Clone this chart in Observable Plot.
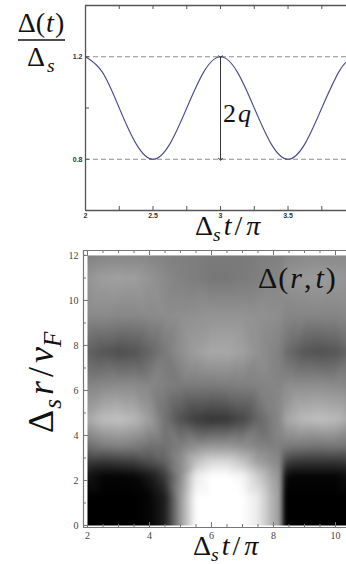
<!DOCTYPE html>
<html>
<head>
<meta charset="utf-8">
<script src="https://cdn.jsdelivr.net/npm/d3@7"></script>
<script src="https://cdn.jsdelivr.net/npm/@observablehq/plot@0.6"></script>
<style>
  html, body { margin: 0; padding: 0; background: #fff; }
  #chart { position: relative; width: 346px; height: 564px; overflow: hidden; background: #fff; }
  #chart svg { position: absolute; left: 0; display: block; }
</style>
</head>
<body>
<div id="chart"></div>
<script>
// ---- Upper panel: gap oscillation Δ(t)/Δs versus Δs t/π ----
const tSamples = [2, 2.125, 2.25, 2.375, 2.5, 2.625, 2.75, 2.875, 3, 3.125, 3.25, 3.375, 3.5, 3.625, 3.75, 3.875, 3.95];
const gapRatio = [1.2, 1.14, 1.0, 0.86, 0.8, 0.86, 1.0, 1.14, 1.2, 1.14, 1.0, 0.86, 0.8, 0.86, 1.0, 1.14, 1.19];
const levels = [0.8, 1.2];             // dashed guide levels
const swingT = [3];                    // where the 2q arrow sits
const swingFrom = [1.2];
const swingTo = [0.8];
const topTickLabelsX = [2, 2.5, 3, 3.5];
const topTickLabelsY = [0.8, 1.2];

// ---- Lower panel: Δ(r,t) density map (0 = black, 1 = white) ----
const tGrid = [2, 2.5, 3, 3.5, 4, 4.5, 5, 5.5, 6, 6.5, 7, 7.5, 8, 8.28, 8.3, 8.6, 9, 9.5, 10, 10.5];
const rGrid = [12, 11, 9.3, 7.7, 6.2, 4.7, 3.5, 2.8, 2.2, 1.2, 0];
const shade = [
  [0.50, 0.52, 0.53, 0.53, 0.52, 0.51, 0.50, 0.49, 0.48, 0.48, 0.48, 0.49, 0.50, 0.50, 0.52, 0.53, 0.54, 0.54, 0.54, 0.54],
  [0.58, 0.62, 0.63, 0.62, 0.58, 0.54, 0.51, 0.49, 0.47, 0.47, 0.48, 0.50, 0.52, 0.53, 0.57, 0.59, 0.60, 0.61, 0.60, 0.58],
  [0.54, 0.54, 0.53, 0.53, 0.54, 0.55, 0.56, 0.57, 0.58, 0.58, 0.58, 0.57, 0.56, 0.55, 0.53, 0.52, 0.52, 0.52, 0.52, 0.53],
  [0.38, 0.34, 0.31, 0.33, 0.40, 0.48, 0.56, 0.62, 0.66, 0.66, 0.63, 0.57, 0.52, 0.50, 0.45, 0.40, 0.34, 0.32, 0.34, 0.40],
  [0.52, 0.54, 0.55, 0.55, 0.53, 0.50, 0.48, 0.48, 0.48, 0.49, 0.50, 0.51, 0.52, 0.52, 0.55, 0.56, 0.56, 0.56, 0.55, 0.53],
  [0.66, 0.74, 0.76, 0.72, 0.62, 0.45, 0.32, 0.24, 0.21, 0.22, 0.28, 0.40, 0.50, 0.55, 0.62, 0.68, 0.73, 0.75, 0.73, 0.66],
  [0.42, 0.48, 0.50, 0.48, 0.44, 0.44, 0.50, 0.57, 0.60, 0.60, 0.57, 0.52, 0.50, 0.50, 0.48, 0.47, 0.46, 0.45, 0.46, 0.45],
  [0.22, 0.20, 0.22, 0.24, 0.30, 0.38, 0.55, 0.76, 0.86, 0.86, 0.78, 0.63, 0.55, 0.52, 0.28, 0.22, 0.20, 0.20, 0.20, 0.22],
  [0.08, 0.02, 0.02, 0.03, 0.10, 0.24, 0.55, 0.93, 1.00, 1.00, 0.96, 0.80, 0.62, 0.58, 0.08, 0.02, 0.02, 0.02, 0.02, 0.06],
  [0.00, 0.00, 0.00, 0.00, 0.02, 0.12, 0.60, 1.00, 1.00, 1.00, 1.00, 0.92, 0.68, 0.60, 0.00, 0.00, 0.00, 0.00, 0.00, 0.00],
  [0.00, 0.00, 0.00, 0.00, 0.02, 0.12, 0.60, 1.00, 1.00, 1.00, 1.00, 0.92, 0.68, 0.60, 0.00, 0.00, 0.00, 0.00, 0.00, 0.00]
];
const mapTickLabelsX = [2, 4, 6, 8, 10];
const mapTickLabelsY = [0, 2, 4, 6, 8, 10, 12];

// ---------------------------------------------------------------
const gapSeries = tSamples.map((t, i) => ({t, g: gapRatio[i]}));
const swing = swingT.map((t, i) => ({t, a: swingFrom[i], b: swingTo[i]}));
const cells = rGrid.flatMap((r, i) => tGrid.map((t, j) => ({t, r, v: shade[i][j]})));

const frameColor = "#555";
const sansTicks = {fontSize: 7, fontWeight: "bold", fontFamily: "'Liberation Sans', Arial, sans-serif"};
const serifTicks = {fontSize: 10, fontFamily: "'Liberation Serif', serif"};

// Upper panel: plot area is 261 x 205 px
const gapChart = Plot.plot({
  width: 346, height: 246,
  marginLeft: 85, marginRight: 0, marginTop: 5, marginBottom: 36,
  x: {domain: [2, 3.933]},
  y: {domain: [0.6, 1.4]},
  style: {color: "#333", background: "transparent"},
  marks: [
    Plot.ruleY(levels, {stroke: "#8c8c8c", strokeDasharray: "5,3", strokeWidth: 1}),
    Plot.line(gapSeries, {x: "t", y: "g", curve: "natural", stroke: "#4a4a8c", strokeWidth: 1.1}),
    Plot.link(swing, {x1: "t", x2: "t", y1: "a", y2: "b", stroke: "#333", strokeWidth: 1, markerStart: "arrow", markerEnd: "arrow"}),
    Plot.ruleX([2], {stroke: frameColor, strokeWidth: 1.3}),
    Plot.ruleY([0.6, 1.4], {stroke: frameColor, strokeWidth: 1.3}),
    Plot.tickX(d3.range(2, 3.94, 0.25), {x: d => d, insetTop: 201, stroke: frameColor}),
    Plot.tickX(d3.range(2, 3.94, 0.25), {x: d => d, insetBottom: 201, stroke: frameColor}),
    Plot.tickY([0.8, 1.0, 1.2], {y: d => d, insetRight: 257, stroke: frameColor}),
    Plot.axisX(topTickLabelsX, {tickSize: 0, tickPadding: 3, label: null, tickFormat: d => String(d), ...sansTicks}),
    Plot.axisY(topTickLabelsY, {tickSize: 0, tickPadding: 3, label: null, tickFormat: d => String(d), ...sansTicks})
  ]
});

// Lower panel: plot area is 263 x 277 px
const mapChart = Plot.plot({
  width: 346, height: 318,
  marginLeft: 83, marginRight: 0, marginTop: 4, marginBottom: 37,
  x: {domain: [1.871, 10.355]},
  y: {domain: [-0.089, 12.22]},
  color: {type: "linear", domain: [0, 1], range: ["#000", "#fff"], clamp: true},
  style: {color: "#444", background: "transparent"},
  marks: [
    Plot.raster(cells, {x: "t", y: "r", fill: "v", interpolate: "barycentric", x1: 2, x2: 10.5, y1: 0, y2: 12, blur: 2}),
    Plot.ruleX([1.871], {stroke: "#777", strokeWidth: 1.2}),
    Plot.ruleY([-0.089, 12.22], {stroke: "#777", strokeWidth: 1.2}),
    Plot.tickY(d3.range(0, 12.5, 1), {y: d => d, insetRight: 260, stroke: "#777"}),
    Plot.tickY(mapTickLabelsY, {y: d => d, insetRight: 258, stroke: "#777"}),
    Plot.tickX(d3.range(2, 10.4, 0.5), {x: d => d, insetTop: 274, stroke: "#777"}),
    Plot.tickX(mapTickLabelsX, {x: d => d, insetTop: 272, stroke: "#777"}),
    Plot.tickX(d3.range(2, 10.4, 0.5), {x: d => d, insetBottom: 274, stroke: "#777"}),
    Plot.tickX(mapTickLabelsX, {x: d => d, insetBottom: 272, stroke: "#777"}),
    Plot.axisX(mapTickLabelsX, {tickSize: 0, tickPadding: 4, label: null, tickFormat: d => String(d), ...serifTicks}),
    Plot.axisY(mapTickLabelsY, {tickSize: 0, tickPadding: 5, label: null, tickFormat: d => String(d), ...serifTicks})
  ]
});

gapChart.style.top = "0px";
mapChart.style.top = "246px";
const host = document.getElementById("chart");
host.appendChild(gapChart);
host.appendChild(mapChart);

// Math-style labels: parts are [text, kind, dx] with kind "r" (roman), "i" (italic), "sub" (italic subscript)
function mathLabel(svg, {x, y, size, rotate = 0, anchor = "start"}, parts) {
  const text = d3.select(svg).append("text")
    .attr("transform", `translate(${x},${y}) rotate(${rotate})`)
    .attr("font-family", "'Liberation Serif', 'DejaVu Serif', serif")
    .attr("font-size", size)
    .attr("text-anchor", anchor)
    .attr("fill", "#111");
  let lowered = false;
  for (const [s, kind, dx = 0] of parts) {
    const ts = text.append("tspan").text(s);
    if (dx) ts.attr("dx", dx);
    if (kind === "sub") {
      ts.attr("font-style", "italic").attr("font-size", size * 0.7);
      if (!lowered) ts.attr("dy", size * 0.22);
      lowered = true;
    } else {
      if (kind === "i") ts.attr("font-style", "italic");
      if (lowered) ts.attr("dy", -size * 0.22);
      lowered = false;
    }
  }
  return text;
}

// upper panel labels
mathLabel(gapChart, {x: 41, y: 32, size: 28, anchor: "middle"}, [["Δ(", "r"], ["t", "i", 1], [")", "r", 1]]);
d3.select(gapChart).append("line")
  .attr("x1", 18).attr("x2", 65).attr("y1", 40).attr("y2", 40)
  .attr("stroke", "#111").attr("stroke-width", 1.4);
mathLabel(gapChart, {x: 27, y: 66, size: 28}, [["Δ", "r"], ["s", "sub", 2]]);
mathLabel(gapChart, {x: 195, y: 235, size: 28}, [["Δ", "r"], ["s", "sub", 0], ["t", "i", 3], ["/", "r", 3], ["π", "i", 4]]);
mathLabel(gapChart, {x: 223, y: 122, size: 26}, [["2", "r"], ["q", "i", 2]]);

// lower panel labels
mathLabel(mapChart, {x: 258, y: 42, size: 30}, [["Δ", "r"], ["(", "r", 1], ["r", "i", 2], [",", "r", 2], ["t", "i", 4], [")", "r", 2]]);
mathLabel(mapChart, {x: 193, y: 309, size: 28}, [["Δ", "r"], ["s", "sub", 0], ["t", "i", 3], ["/", "r", 3], ["π", "i", 4]]);
mathLabel(mapChart, {x: 53, y: 187, size: 36, rotate: -90}, [["Δ", "r"], ["s", "sub", 1], ["r", "i", 4], ["/", "r", 4], ["v", "i", 4], ["F", "sub", 0]]);
</script>
</body>
</html>
